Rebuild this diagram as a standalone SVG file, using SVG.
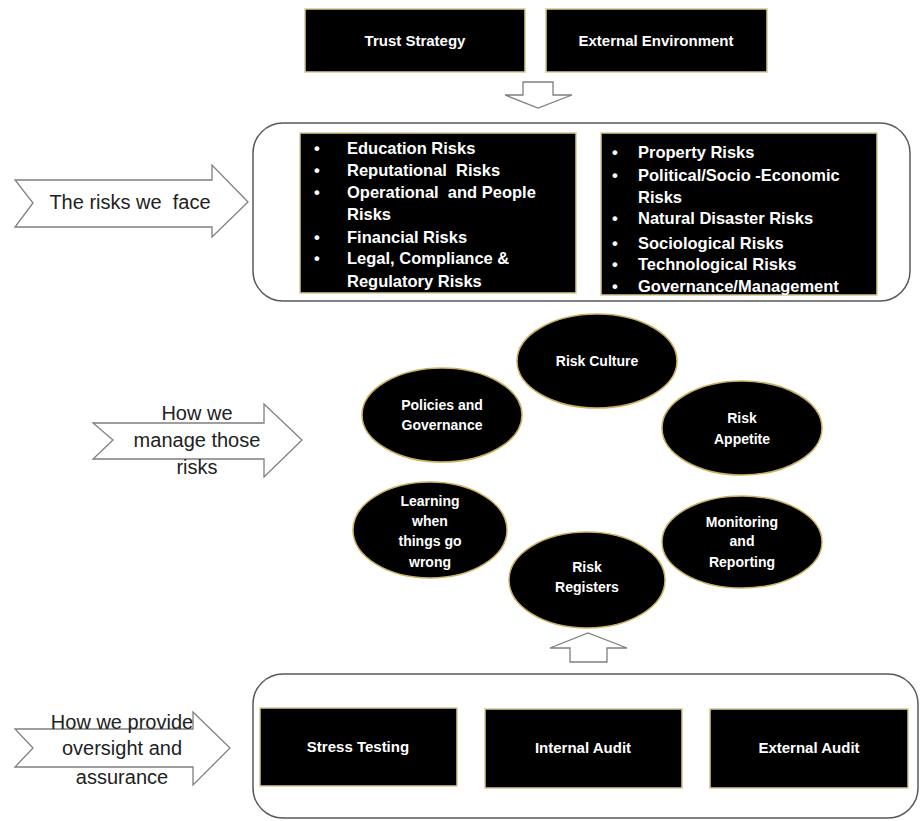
<svg xmlns="http://www.w3.org/2000/svg" width="923" height="821" viewBox="0 0 923 821">
<style>
.bx{fill:#000;stroke:#d8c890;stroke-width:1.5}
.el{fill:#000;stroke:#c9b060;stroke-width:1.5}
.wt{fill:#fff;font-family:"Liberation Sans",Arial,sans-serif;font-weight:bold;font-size:15px}
.rl{font-size:16.5px}
.et{font-size:14px}
.ct{text-anchor:middle}
.ar{fill:#fff;stroke:#7f7f7f;stroke-width:1.3}
.cont{fill:none;stroke:#595959;stroke-width:1.5}
.lb{fill:#222;font-family:"Liberation Sans",Arial,sans-serif;font-size:20px;text-anchor:middle}
</style>
<rect width="923" height="821" fill="#fff"/>

<g id="connectors">
<path class="ar" d="M523,82 H553 V95 H572 L538,108 L505,95 H523 Z"/>
<path class="ar" d="M570,662 V648 H550 L588,633 L627,648 H607 V662 Z"/>
<path class="ar" d="M15,180 H212 V165 L248,202 L212,237 V227 H15 L33,203 Z"/>
<path class="ar" d="M93,423 H264 V404 L302,440 L264,477 V459 H93 L113,440 Z"/>
<path class="ar" d="M15,729 H193 V712 L230,748 L193,785 V767 H15 L33,748 Z"/>
</g>

<g id="trust-strategy">
<rect class="bx" x="305" y="9" width="220" height="63"/>
<text class="wt ct" x="415" y="46">Trust Strategy</text>
</g>
<g id="external-environment">
<rect class="bx" x="546" y="9" width="221" height="63"/>
<text class="wt ct" x="656" y="46">External Environment</text>
</g>

<g id="risks-container">
<rect class="cont" x="253" y="123" width="657" height="178" rx="30"/>
</g>
<g id="risks-left">
<rect class="bx" x="300" y="133" width="276" height="160"/>
<g class="wt rl">
<text x="314" y="154">•</text><text x="347" y="154">Education Risks</text>
<text x="314" y="176">•</text><text x="347" y="176">Reputational&#160; Risks</text>
<text x="314" y="198">•</text><text x="347" y="198">Operational&#160; and People</text>
<text x="347" y="220">Risks</text>
<text x="314" y="243">•</text><text x="347" y="243">Financial Risks</text>
<text x="314" y="264">•</text><text x="347" y="264">Legal, Compliance &amp;</text>
<text x="347" y="287">Regulatory Risks</text>
</g>
</g>
<g id="risks-right">
<rect class="bx" x="601" y="133" width="276" height="162"/>
<g class="wt rl">
<text x="612" y="158">•</text><text x="638" y="158">Property Risks</text>
<text x="612" y="181">•</text><text x="638" y="181">Political/Socio -Economic</text>
<text x="638" y="203">Risks</text>
<text x="612" y="224">•</text><text x="638" y="224">Natural Disaster Risks</text>
<text x="612" y="249">•</text><text x="638" y="249">Sociological Risks</text>
<text x="612" y="270">•</text><text x="638" y="270">Technological Risks</text>
<text x="612" y="292">•</text><text x="638" y="292">Governance/Management</text>
</g>
</g>

<g id="label-risks-we-face">
<text class="lb" x="130" y="209">The risks we&#160; face</text>
</g>
<g id="label-manage">
<text class="lb" x="197" y="420">How we</text>
<text class="lb" x="197" y="447">manage those</text>
<text class="lb" x="197" y="474">risks</text>
</g>
<g id="label-oversight">
<text class="lb" x="122" y="729">How we provide</text>
<text class="lb" x="122" y="755">oversight and</text>
<text class="lb" x="122" y="784">assurance</text>
</g>

<g id="risk-culture">
<ellipse class="el" cx="597" cy="361" rx="80" ry="47"/>
<text class="wt et ct" x="597" y="366">Risk Culture</text>
</g>
<g id="policies-governance">
<ellipse class="el" cx="442" cy="415" rx="80" ry="47"/>
<text class="wt et ct" x="442" y="410">Policies and</text>
<text class="wt et ct" x="442" y="430">Governance</text>
</g>
<g id="risk-appetite">
<ellipse class="el" cx="742" cy="428" rx="80" ry="47"/>
<text class="wt et ct" x="742" y="423">Risk</text>
<text class="wt et ct" x="742" y="444">Appetite</text>
</g>
<g id="learning">
<ellipse class="el" cx="430" cy="530" rx="77" ry="48"/>
<text class="wt et ct" x="430" y="506">Learning</text>
<text class="wt et ct" x="430" y="526">when</text>
<text class="wt et ct" x="430" y="546">things go</text>
<text class="wt et ct" x="430" y="567">wrong</text>
</g>
<g id="monitoring-reporting">
<ellipse class="el" cx="742" cy="542" rx="80" ry="46"/>
<text class="wt et ct" x="742" y="527">Monitoring</text>
<text class="wt et ct" x="742" y="546">and</text>
<text class="wt et ct" x="742" y="567">Reporting</text>
</g>
<g id="risk-registers">
<ellipse class="el" cx="587" cy="580" rx="78" ry="48"/>
<text class="wt et ct" x="587" y="572">Risk</text>
<text class="wt et ct" x="587" y="592">Registers</text>
</g>

<g id="assurance-container">
<rect class="cont" x="253" y="674" width="665" height="144" rx="30"/>
</g>
<g id="stress-testing">
<rect class="bx" x="260" y="708" width="197" height="78"/>
<text class="wt ct" x="358" y="752">Stress Testing</text>
</g>
<g id="internal-audit">
<rect class="bx" x="485" y="709" width="197" height="79"/>
<text class="wt ct" x="583" y="753">Internal Audit</text>
</g>
<g id="external-audit">
<rect class="bx" x="710" y="709" width="198" height="79"/>
<text class="wt ct" x="809" y="753">External Audit</text>
</g>
</svg>
